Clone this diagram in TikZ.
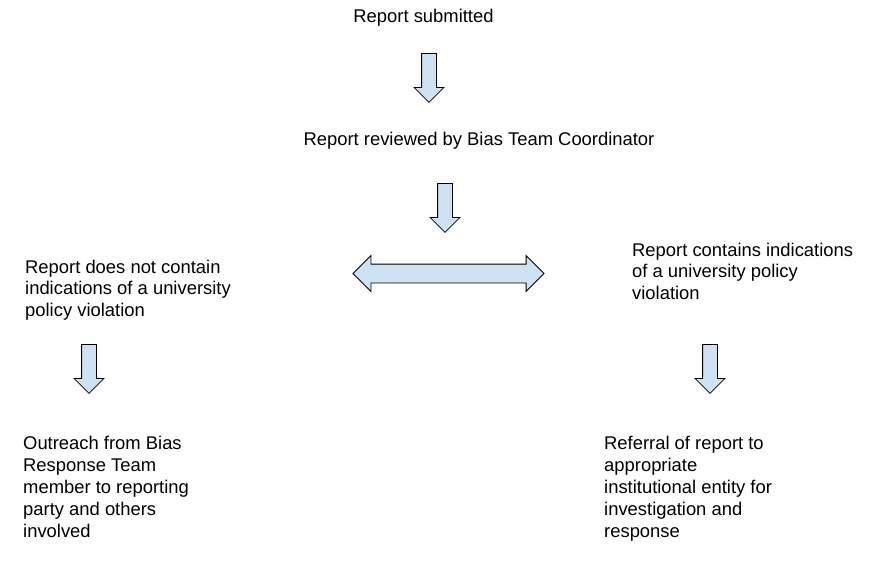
\documentclass[tikz,border=0pt]{standalone}
\usepackage{fontspec}
\setmainfont{Liberation Sans}
\usetikzlibrary{shapes.arrows}
\definecolor{arrowfill}{HTML}{CFE2F3}
\begin{document}
\begin{tikzpicture}[x=1pt,y=-1pt,
  lbl/.style={font=\fontsize{18.4}{21.8}\selectfont, inner sep=0pt, align=left, anchor=base west},
  downarrow/.style={single arrow, draw=black, line width=0.8pt, fill=arrowfill,
    single arrow head extend=7.5pt, minimum height=49pt,
    inner sep=0pt, rotate=-90, anchor=tail},
  bothway/.style={double arrow, draw=black, line width=0.8pt, fill=arrowfill,
    double arrow head extend=8.5pt, minimum height=191pt,
    inner sep=0pt}]
\useasboundingbox (0,0) rectangle (874,565);

\node[lbl, anchor=base] (submitted) at (423.5,22) {Report submitted};
\node[lbl, anchor=base] (reviewed) at (479,145) {Report reviewed by Bias Team Coordinator};
\node[lbl] (notcontain) at (25,316.6) {Report does not contain\\indications of a university\\policy violation};
\node[lbl] (contains) at (632,299.6) {Report contains indications\\of a university policy\\violation};
\node[lbl] (outreach) at (23,537) {Outreach from Bias\\Response Team\\member to reporting\\party and others\\involved};
\node[lbl] (referral) at (604,537) {Referral of report to\\appropriate\\institutional entity for\\investigation and\\response};

\node[downarrow] (arrowA) at (429,53) {\rule{0pt}{14pt}};
\node[downarrow] (arrowB) at (445,183) {\rule{0pt}{14pt}};
\node[downarrow] (arrowC) at (89,344) {\rule{0pt}{14pt}};
\node[downarrow] (arrowD) at (710,344) {\rule{0pt}{14pt}};
\node[bothway] (arrowE) at (448.5,273.5) {\rule{0pt}{18pt}};
\end{tikzpicture}
\end{document}
